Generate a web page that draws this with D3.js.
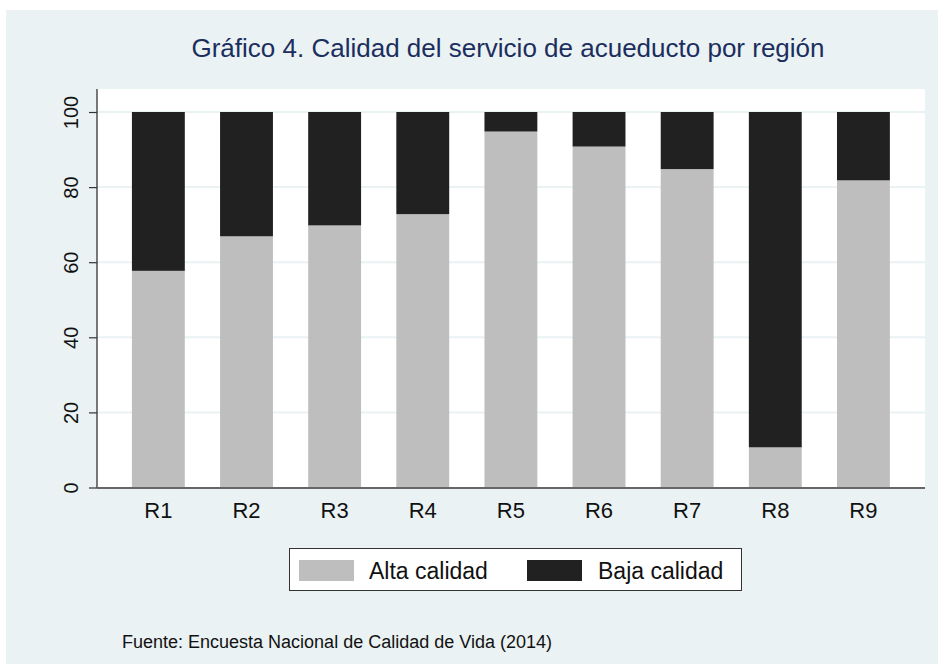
<!DOCTYPE html>
<html>
<head>
<meta charset="utf-8">
<title>Gráfico 4</title>
<script src="https://cdn.jsdelivr.net/npm/d3@7"></script>
<style>
  body { margin: 0; background: #fff; }
  text { font-family: "Liberation Sans", Arial, sans-serif; }
</style>
</head>
<body>
<script>
  // datos (porcentaje por region)
  var regiones = ["R1", "R2", "R3", "R4", "R5", "R6", "R7", "R8", "R9"];
  var alta = [57.7, 66.9, 69.8, 72.8, 94.8, 90.8, 84.8, 10.7, 81.8];
  var baja = alta.map(function (v) { return 100 - v; });
  var yTicks = [0, 20, 40, 60, 80, 100];
  var series = ["Alta calidad", "Baja calidad"];
  var colores = ["#bebebe", "#212121"];

  var W = 938, H = 664;
  var svg = d3.select("body").append("svg")
      .attr("width", W)
      .attr("height", H);

  // fondo del grafico
  svg.append("rect")
      .attr("x", 6).attr("y", 10)
      .attr("width", W - 6).attr("height", H - 10)
      .attr("fill", "#eaf2f3");

  // area del plot
  var L = 97, R = 925, T = 89, B = 488;
  svg.append("rect")
      .attr("x", L).attr("y", T)
      .attr("width", R - L).attr("height", B - T)
      .attr("fill", "#ffffff");

  var y = d3.scaleLinear().domain([0, 100]).range([487.5, 112]);
  var x = d3.scaleBand().domain(regiones)
      .range([114.3, 907.5])
      .paddingInner(0.4)
      .paddingOuter(0.2);

  // lineas de cuadricula
  svg.append("g").selectAll("line")
      .data(yTicks.slice(1))
      .enter().append("line")
      .attr("x1", L).attr("x2", R)
      .attr("y1", function (d) { return y(d); })
      .attr("y2", function (d) { return y(d); })
      .attr("stroke", "#eaf2f3")
      .attr("stroke-width", 2);

  // barras apiladas
  var datos = regiones.map(function (r, i) {
    return { region: r, Alta: alta[i], Baja: baja[i] };
  });
  var stack = d3.stack().keys(["Alta", "Baja"])(datos);

  svg.append("g").selectAll("g")
      .data(stack)
      .enter().append("g")
      .attr("fill", function (d, i) { return colores[i]; })
      .selectAll("rect")
      .data(function (d) { return d; })
      .enter().append("rect")
      .attr("x", function (d) { return x(d.data.region); })
      .attr("y", function (d) { return y(d[1]); })
      .attr("width", x.bandwidth())
      .attr("height", function (d) { return y(d[0]) - y(d[1]); });

  // eje y
  var yAxis = svg.append("g")
      .attr("transform", "translate(" + L + ",0)")
      .call(d3.axisLeft(y).tickValues(yTicks).tickSize(8).tickFormat(d3.format("d")));
  yAxis.select(".domain").remove();
  yAxis.selectAll(".tick line").attr("stroke", "#333").attr("stroke-width", 1.2);
  yAxis.selectAll(".tick text")
      .attr("font-size", 20)
      .attr("fill", "#111")
      .attr("font-family", "Liberation Sans, Arial, sans-serif")
      .attr("transform", "rotate(-90)")
      .attr("x", 0)
      .attr("y", -19)
      .attr("dy", 0)
      .attr("text-anchor", "middle");
  svg.append("line")
      .attr("x1", L).attr("x2", L)
      .attr("y1", T).attr("y2", B)
      .attr("stroke", "#333").attr("stroke-width", 1.3);

  // eje x
  var xAxis = svg.append("g")
      .attr("transform", "translate(0," + B + ")")
      .call(d3.axisBottom(x).tickSize(0).tickPadding(14));
  xAxis.select(".domain").remove();
  xAxis.selectAll(".tick text")
      .attr("font-size", 22)
      .attr("fill", "#111")
      .attr("font-family", "Liberation Sans, Arial, sans-serif");
  svg.append("line")
      .attr("x1", L).attr("x2", R)
      .attr("y1", B).attr("y2", B)
      .attr("stroke", "#666").attr("stroke-width", 2);

  // titulo
  svg.append("text")
      .attr("x", 508).attr("y", 57)
      .attr("text-anchor", "middle")
      .attr("font-size", 26)
      .attr("fill", "#1c2e5e")
      .text("Gráfico 4. Calidad del servicio de acueducto por región");

  // leyenda
  var leg = svg.append("g");
  leg.append("rect")
      .attr("x", 289.5).attr("y", 548.5)
      .attr("width", 452).attr("height", 42)
      .attr("fill", "#fff").attr("stroke", "#333").attr("stroke-width", 1);
  var legX = [299, 527], txtX = [369, 598];
  series.forEach(function (s, i) {
    leg.append("rect")
        .attr("x", legX[i]).attr("y", 560)
        .attr("width", 55).attr("height", 21)
        .attr("fill", colores[i]);
    leg.append("text")
        .attr("x", txtX[i]).attr("y", 579)
        .attr("font-size", 23)
        .attr("fill", "#111")
        .text(s);
  });

  // fuente
  svg.append("text")
      .attr("x", 122).attr("y", 648)
      .attr("font-size", 18)
      .attr("fill", "#111")
      .text("Fuente: Encuesta Nacional de Calidad de Vida (2014)");
</script>
</body>
</html>
